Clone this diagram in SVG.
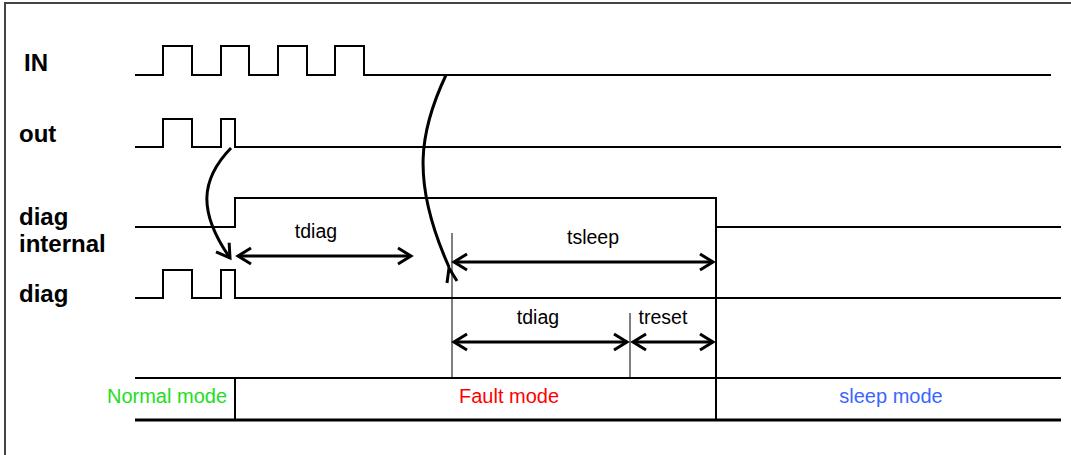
<svg xmlns="http://www.w3.org/2000/svg" width="1071" height="455" viewBox="0 0 1071 455">
<style>
.sig{fill:none;stroke:#000;stroke-width:2;stroke-linejoin:miter}
.thin{fill:none;stroke:#000;stroke-width:1}
.lbl{font-family:"Liberation Sans",Arial,sans-serif;font-weight:bold;font-size:24px;fill:#000}
.t{font-family:"Liberation Sans",Arial,sans-serif;font-size:19.5px;fill:#000;text-anchor:middle}
.mode{font-family:"Liberation Sans",Arial,sans-serif;font-size:20px;text-anchor:middle}
.arr{fill:none;stroke:#000;stroke-width:3;marker-start:url(#ah);marker-end:url(#ah)}
.cur{fill:none;stroke:#000;stroke-width:3}
</style>
<defs>
<marker id="ah" markerUnits="userSpaceOnUse" markerWidth="24" markerHeight="24" refX="0" refY="0" viewBox="-16 -12 20 24" orient="auto-start-reverse" overflow="visible">
<path d="M-13,-8 L0,0 L-13,8" fill="none" stroke="#000" stroke-width="3"/>
</marker>
<marker id="ah1" markerUnits="userSpaceOnUse" markerWidth="24" markerHeight="24" refX="0" refY="0" viewBox="-16 -12 20 24" orient="auto" overflow="visible">
<path d="M-13,-8 L0,0 L-13,8" fill="none" stroke="#000" stroke-width="3"/>
</marker>
</defs>
<rect width="1071" height="455" fill="#fff"/>
<g id="frame">
<path d="M5,455 L5,3 L1071,3" fill="none" stroke="#444" stroke-width="2"/>
</g>
<g id="sig-in">
<text class="lbl" x="24" y="71">IN</text>
<path class="sig" d="M135,75 H163 V46 H192 V75 H221 V46 H249 V75 H278 V46 H307 V75 H335 V46 H364 V75 H1051"/>
</g>
<g id="sig-out">
<text class="lbl" x="19" y="142">out</text>
<path class="sig" d="M135,147 H163 V119 H192 V147 H221 V119 H235 V147 H1061"/>
</g>
<g id="sig-diag-internal">
<text class="lbl" x="19" y="225">diag</text>
<text class="lbl" x="19" y="252">internal</text>
<path class="sig" d="M135,227 H235 V198 H716 V227 H1061"/>
</g>
<g id="sig-diag">
<text class="lbl" x="19" y="302">diag</text>
<path class="sig" d="M135,298 H163 V270 H192 V298 H221 V270 H235 V298 H1061"/>
</g>
<g id="timing-marks">
<line class="thin" x1="452" y1="233" x2="452" y2="378"/>
<line class="thin" x1="630" y1="313" x2="630" y2="378" stroke="#444"/>
<line class="sig" x1="716" y1="198" x2="716" y2="420"/>
</g>
<g id="modes">
<line class="sig" x1="135" y1="378" x2="1061" y2="378"/>
<line x1="135" y1="420" x2="1061" y2="420" stroke="#000" stroke-width="3"/>
<line class="sig" x1="235" y1="378" x2="235" y2="420"/>
<text class="mode" x="167" y="403" fill="#22dd22">Normal mode</text>
<text class="mode" x="509" y="403" fill="#ff0000">Fault mode</text>
<text class="mode" x="891" y="403" fill="#3a66ff">sleep mode</text>
</g>
<g id="connectors">
<line class="arr" x1="238" y1="256" x2="411" y2="256"/>
<text class="t" x="316" y="238">tdiag</text>
<line class="arr" x1="454" y1="262" x2="713" y2="262"/>
<text class="t" x="593" y="244">tsleep</text>
<line class="arr" x1="454" y1="342" x2="627" y2="342"/>
<text class="t" x="538" y="324">tdiag</text>
<line class="arr" x1="633" y1="342" x2="713" y2="342"/>
<text class="t" x="663" y="324">treset</text>
<path class="cur" d="M231,148 C200,180 198,212 230,258" marker-end="url(#ah1)"/>
<path class="cur" d="M446,75 C420,130 410,180 449,267"/>
<path class="cur" d="M447,283 L449,268 L457,281"/>
</g>
</svg>
